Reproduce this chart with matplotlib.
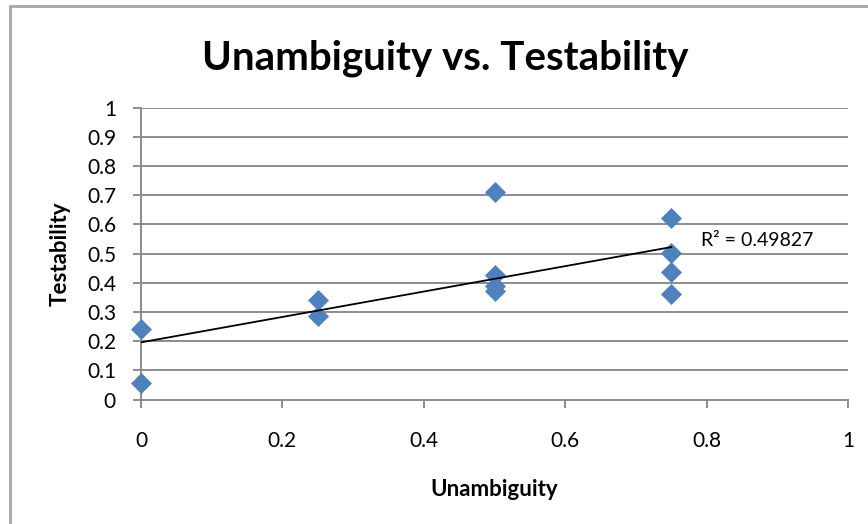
import matplotlib.pyplot as plt
import numpy as np
from matplotlib.patches import Rectangle

# data
unambiguity = [0, 0, 0.25, 0.25, 0.5, 0.5, 0.5, 0.5, 0.75, 0.75, 0.75, 0.75]
testability = [0.243, 0.055, 0.342, 0.285, 0.711, 0.426, 0.388, 0.372,
               0.620, 0.502, 0.437, 0.360]
r2_label = "R² = 0.49827"
x_ticks = [0, 0.2, 0.4, 0.6, 0.8, 1]
y_ticks = [0, 0.1, 0.2, 0.3, 0.4, 0.5, 0.6, 0.7, 0.8, 0.9, 1]

plt.rcParams['font.family'] = ['Lato', 'DejaVu Sans']

fig = plt.figure(figsize=(8.68, 5.24), dpi=100)
ax = fig.add_axes([141 / 868, 1 - 399.5 / 524, 707 / 868, 292 / 524])

# chart frame (cropped on right/bottom like the reference)
fig.patches.append(Rectangle((10 / 868, -0.1), 1.2, 1 - 6 / 524 + 0.1,
                             transform=fig.transFigure, fill=False,
                             edgecolor="#a6a6a6", linewidth=2))

ax.scatter(unambiguity, testability, marker="D", s=115, color="#4f81bd",
           zorder=3, linewidths=0, clip_on=False)

# linear trend line over the data range
slope, icpt = np.polyfit(unambiguity, testability, 1)
xs = np.array([min(unambiguity), max(unambiguity)])
ax.plot(xs, slope * xs + icpt, color="black", linewidth=1.3, zorder=4)
ax.text(0.792, 0.545, r2_label, fontsize=14, ha="left", va="center")

ax.set_xlim(0, 1)
ax.set_ylim(0, 1)
ax.set_xticks(x_ticks)
ax.set_yticks(y_ticks)
ax.set_xticklabels([f"{v:g}" for v in x_ticks])
ax.set_yticklabels([f"{v:g}" for v in y_ticks])
ax.grid(axis="y", color="#8c8c8c", linewidth=1.4)
ax.set_axisbelow(True)

for side in ["top", "right"]:
    ax.spines[side].set_visible(False)
for side in ["left", "bottom"]:
    ax.spines[side].set_color("#8c8c8c")
    ax.spines[side].set_linewidth(1.4)
ax.tick_params(axis="both", colors="#8c8c8c", labelcolor="black",
               labelsize=15, length=6, width=1.4)
ax.tick_params(axis="x", pad=17)
ax.tick_params(axis="y", pad=12)

fig.text(445 / 868, 1 - 58 / 524, "Unambiguity vs. Testability",
         fontsize=29, fontweight="bold", ha="center", va="center")
ax.set_xlabel("Unambiguity", fontsize=16, fontweight="bold", labelpad=20)
ax.set_ylabel("Testability", fontsize=16, fontweight="bold", labelpad=12)

fig.savefig("out.png", dpi=100)
